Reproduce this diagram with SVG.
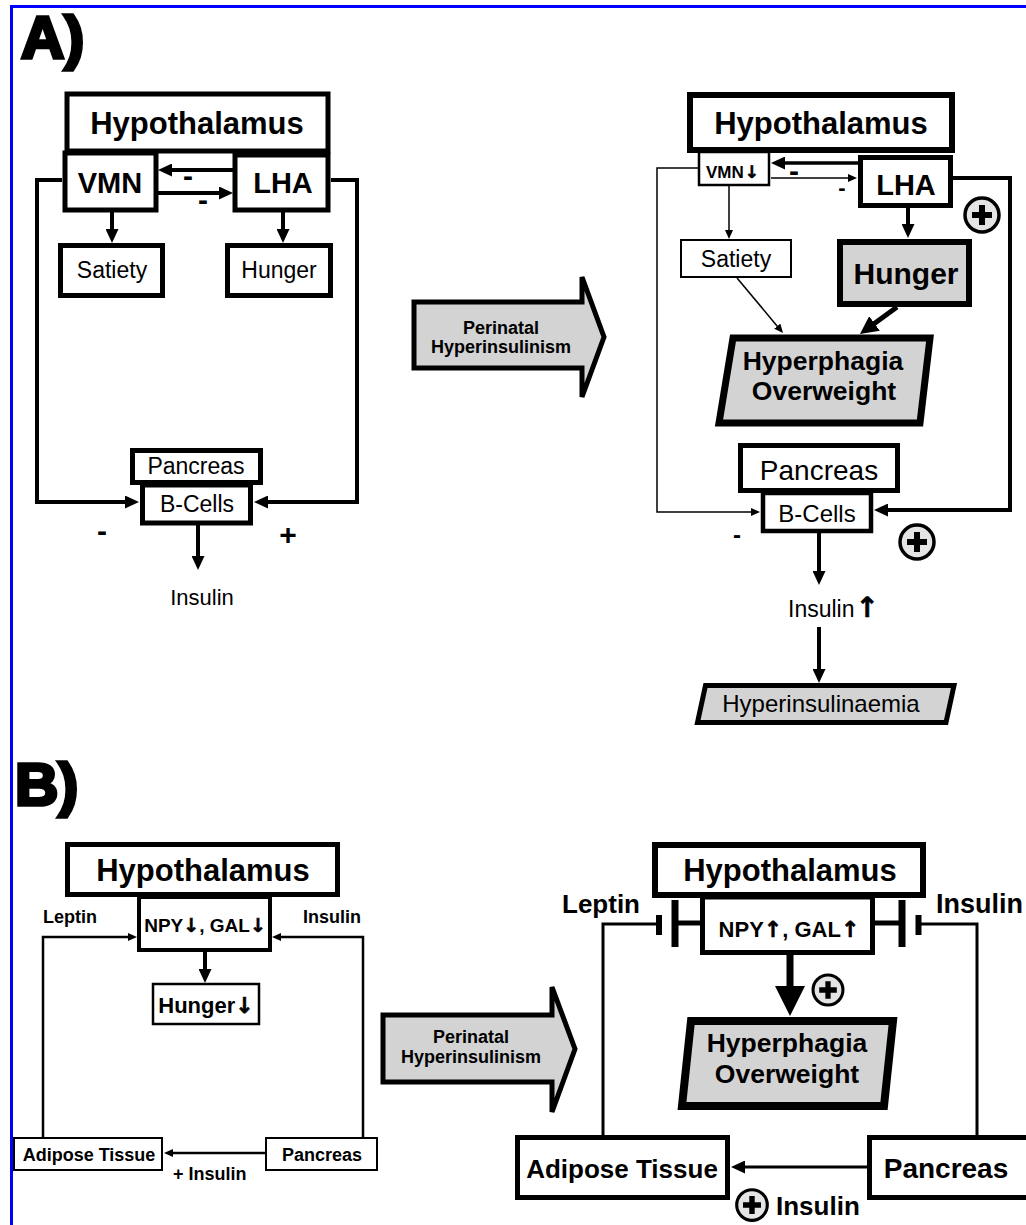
<svg xmlns="http://www.w3.org/2000/svg" xmlns:xlink="http://www.w3.org/1999/xlink" width="1026" height="1225" viewBox="0 0 1026 1225">
<style>
.bx{fill:#fff;stroke:#000}
.gr{fill:#d3d3d3;stroke:#000}
.t{font-family:"Liberation Sans",Arial,"DejaVu Sans",sans-serif;fill:#000}
.b{font-weight:bold}
.c{text-anchor:middle}
.ar{font-family:"DejaVu Sans",sans-serif;font-weight:bold;fill:#000;stroke:#000;stroke-width:0.6}
.ln{fill:none;stroke:#000;stroke-linejoin:miter}
.big{fill:#d3d3d3;stroke:#000;stroke-width:5;stroke-linejoin:miter}
</style>
<defs>
<marker id="m1" markerUnits="userSpaceOnUse" markerWidth="14" markerHeight="13" refX="1" refY="6.5" orient="auto"><path d="M0,0L14,6.5L0,13Z" fill="#000"/></marker>
<marker id="m2" markerUnits="userSpaceOnUse" markerWidth="9" markerHeight="8" refX="1" refY="4" orient="auto"><path d="M0,0L9,4L0,8Z" fill="#000"/></marker>
<marker id="m3" markerUnits="userSpaceOnUse" markerWidth="18" markerHeight="18" refX="1" refY="9" orient="auto"><path d="M0,0L18,9L0,18Z" fill="#000"/></marker>
<marker id="m4" markerUnits="userSpaceOnUse" markerWidth="30" markerHeight="30" refX="1" refY="15" orient="auto"><path d="M0,0L30,15L0,30Z" fill="#000"/></marker>
<g id="pc"><circle r="17" fill="#e4e4e4" stroke="#000" stroke-width="3.5"/><path d="M-10,0H10M0,-10V10" stroke="#000" stroke-width="6"/></g>
</defs>
<rect width="1026" height="1225" fill="#fff"/>
<path d="M11.5,1225V6.5H1026" fill="none" stroke="#0000ff" stroke-width="3"/>

<!-- labels -->
<text class="t b" x="21" y="58" font-size="60" stroke="#000" stroke-width="3.5">A)</text>
<text class="t b" x="15" y="805" font-size="60" stroke="#000" stroke-width="3.5">B)</text>

<!-- connectors -->
<g id="connectors">
  <!-- A left -->
  <path class="ln" stroke-width="4" d="M233,170H171" marker-end="url(#m1)"/>
  <path class="ln" stroke-width="4" d="M158,193H220" marker-end="url(#m1)"/>
  <path class="ln" stroke-width="4" d="M112,212V230" marker-end="url(#m1)"/>
  <path class="ln" stroke-width="4" d="M283,212V230" marker-end="url(#m1)"/>
  <path class="ln" stroke-width="4" d="M62,180H37V502H126" marker-end="url(#m1)"/>
  <path class="ln" stroke-width="4" d="M331,180H357V502H267" marker-end="url(#m1)"/>
  <path class="ln" stroke-width="4" d="M198,525V557" marker-end="url(#m1)"/>
  <!-- A right -->
  <path class="ln" stroke-width="3.5" d="M858,163H784" marker-end="url(#m1)"/>
  <path class="ln" stroke-width="1.5" d="M771,178H849" marker-end="url(#m2)"/>
  <path class="ln" stroke-width="1.5" d="M729,186V231" marker-end="url(#m2)"/>
  <path class="ln" stroke-width="4" d="M908,208V225" marker-end="url(#m1)"/>
  <path class="ln" stroke-width="1.5" d="M698,168H657V512H752" marker-end="url(#m2)"/>
  <path class="ln" stroke-width="4" d="M953,178H1010V510H887" marker-end="url(#m1)"/>
  <path class="ln" stroke-width="1.5" d="M737,278L777.9,326.9" marker-end="url(#m2)"/>
  <path class="ln" stroke-width="5" d="M897,307L873.7,324" marker-end="url(#m3)"/>
  <path class="ln" stroke-width="4" d="M819,533V572" marker-end="url(#m1)"/>
  <path class="ln" stroke-width="4" d="M819,627V670" marker-end="url(#m1)"/>
  <!-- B left -->
  <path class="ln" stroke-width="2.5" d="M43,1137V937H129" marker-end="url(#m2)"/>
  <path class="ln" stroke-width="2.5" d="M363,1137V937H280" marker-end="url(#m2)"/>
  <path class="ln" stroke-width="4" d="M205,952V970" marker-end="url(#m1)"/>
  <path class="ln" stroke-width="2.5" d="M265,1153H172" marker-end="url(#m2)"/>
  <!-- B right -->
  <path class="ln" stroke-width="7" d="M790,955V987" marker-end="url(#m4)"/>
  <path class="ln" stroke-width="3" d="M867,1167H744" marker-end="url(#m1)"/>
  <path class="ln" stroke-width="3" d="M603,1135V924H659"/>
  <path class="ln" stroke-width="6" d="M659,915V935"/>
  <path class="ln" stroke-width="5" d="M700,923H676"/>
  <path class="ln" stroke-width="7" d="M675,900V947"/>
  <path class="ln" stroke-width="5" d="M875,923H902"/>
  <path class="ln" stroke-width="7" d="M902,900V947"/>
  <path class="ln" stroke-width="6" d="M918.5,915V935"/>
  <path class="ln" stroke-width="3" d="M918,924H977V1135"/>
</g>

<!-- middle arrows -->
<g id="arrowA">
  <path class="big" d="M414,302H582V277L604,337L582,397V368H414Z"/>
  <text class="t b c" x="501" y="334" font-size="18">Perinatal</text>
  <text class="t b c" x="501" y="353" font-size="18">Hyperinsulinism</text>
</g>
<g id="arrowB">
  <path class="big" d="M383,1015H552V987L575,1049L552,1112V1082H383Z"/>
  <text class="t b c" x="471" y="1043" font-size="18">Perinatal</text>
  <text class="t b c" x="471" y="1063" font-size="18">Hyperinsulinism</text>
</g>

<!-- Panel A left -->
<g id="aL-hypo"><rect class="bx" x="67" y="94" width="261" height="57" stroke-width="5"/><text class="t b c" x="197" y="134" font-size="31">Hypothalamus</text></g>
<g id="aL-vmn"><rect class="bx" x="65" y="153" width="91" height="57" stroke-width="5"/><text class="t b c" x="110" y="193" font-size="29">VMN</text></g>
<g id="aL-lha"><rect class="bx" x="235" y="155" width="93" height="55" stroke-width="5"/><text class="t b c" x="283" y="193" font-size="29">LHA</text></g>
<g id="aL-signs">
  <text class="t b c" x="188" y="186" font-size="30">-</text>
  <text class="t b c" x="203" y="210" font-size="30">-</text>
  <text class="t b c" x="102" y="541" font-size="30">-</text>
  <text class="t b c" x="288" y="545" font-size="30">+</text>
</g>
<g id="aL-satiety"><rect class="bx" x="60.5" y="245.5" width="102" height="50" stroke-width="5"/><text class="t c" x="112" y="278" font-size="23">Satiety</text></g>
<g id="aL-hunger"><rect class="bx" x="227.5" y="245.5" width="103" height="50" stroke-width="5"/><text class="t c" x="279" y="278" font-size="23">Hunger</text></g>
<g id="aL-pancreas"><rect class="bx" x="132.5" y="450.5" width="128" height="32" stroke-width="5"/><text class="t c" x="196" y="474" font-size="23">Pancreas</text></g>
<g id="aL-bcells"><rect class="bx" x="142.5" y="485" width="108" height="38" stroke-width="5"/><text class="t c" x="197" y="512" font-size="23">B-Cells</text></g>
<g id="aL-insulin"><text class="t c" x="202" y="605" font-size="22">Insulin</text></g>

<!-- Panel A right -->
<g id="aR-hypo"><rect class="bx" x="690" y="95" width="262" height="55" stroke-width="6"/><text class="t b c" x="821" y="134" font-size="31">Hypothalamus</text></g>
<g id="aR-vmn"><rect class="bx" x="699" y="152" width="70" height="33" stroke-width="2.5"/><text class="t b" x="706" y="178" font-size="17">VMN<tspan class="ar" dx="1" font-size="17">↓</tspan></text></g>
<g id="aR-lha"><rect class="bx" x="860.5" y="157.5" width="90" height="48" stroke-width="5"/><text class="t b c" x="906" y="195" font-size="29">LHA</text></g>
<g id="aR-signs">
  <text class="t b c" x="794" y="181" font-size="30">-</text>
  <text class="t b c" x="842" y="195" font-size="22">-</text>
  <text class="t b c" x="737" y="543" font-size="24">-</text>
  <use xlink:href="#pc" transform="translate(982,215)"/>
  <use xlink:href="#pc" transform="translate(917,542)"/>
</g>
<g id="aR-satiety"><rect class="bx" x="681" y="240" width="110" height="37" stroke-width="2"/><text class="t c" x="736" y="267" font-size="23">Satiety</text></g>
<g id="aR-hunger"><rect class="gr" x="840" y="242" width="129" height="62" stroke-width="6"/><text class="t b c" x="906" y="284" font-size="30">Hunger</text></g>
<g id="aR-hyper"><path class="gr" d="M733,338H930L920,423H719Z" stroke-width="7"/><text class="t b c" x="823" y="370" font-size="26.5">Hyperphagia</text><text class="t b c" x="824" y="400" font-size="26.5">Overweight</text></g>
<g id="aR-pancreas"><rect class="bx" x="740.5" y="445.5" width="157" height="45" stroke-width="5"/><text class="t c" x="819" y="480" font-size="28">Pancreas</text></g>
<g id="aR-bcells"><rect class="bx" x="763" y="493" width="108" height="38" stroke-width="4.5"/><text class="t c" x="817" y="522" font-size="24">B-Cells</text></g>
<g id="aR-insulin"><text class="t" x="788" y="617" font-size="23">Insulin<tspan class="ar" dx="1" font-size="28">↑</tspan></text></g>
<g id="aR-hyperins"><path class="gr" d="M705.5,685.5H954L946,722.5H697.5Z" stroke-width="5"/><text class="t c" x="821" y="712" font-size="24">Hyperinsulinaemia</text></g>

<!-- Panel B left -->
<g id="bL-hypo"><rect class="bx" x="67.5" y="844.5" width="270" height="50" stroke-width="5"/><text class="t b c" x="203" y="881" font-size="31">Hypothalamus</text></g>
<g id="bL-npy"><rect class="bx" x="139" y="897" width="131" height="53" stroke-width="4"/><text class="t b c" x="205" y="932" font-size="19">NPY<tspan class="ar">↓</tspan>, GAL<tspan class="ar">↓</tspan></text></g>
<g id="bL-labels">
  <text class="t b" x="43" y="923" font-size="18">Leptin</text>
  <text class="t b" x="303" y="923" font-size="18">Insulin</text>
  <text class="t b" x="173" y="1180" font-size="18">+ Insulin</text>
</g>
<g id="bL-hunger"><rect class="bx" x="153" y="984" width="106" height="40" stroke-width="2.5"/><text class="t b c" x="206" y="1013" font-size="22">Hunger<tspan class="ar">↓</tspan></text></g>
<g id="bL-adipose"><rect class="bx" x="14" y="1138" width="148" height="32" stroke-width="2"/><text class="t b c" x="89" y="1161" font-size="18">Adipose Tissue</text></g>
<g id="bL-pancreas"><rect class="bx" x="266" y="1138" width="111" height="32" stroke-width="2"/><text class="t b c" x="322" y="1161" font-size="18">Pancreas</text></g>

<!-- Panel B right -->
<g id="bR-hypo"><rect class="bx" x="655" y="845" width="268" height="50" stroke-width="6"/><text class="t b c" x="790" y="881" font-size="31">Hypothalamus</text></g>
<g id="bR-npy"><rect class="bx" x="702.5" y="897" width="170" height="55.5" stroke-width="5"/><text class="t b c" x="789" y="937" font-size="22">NPY<tspan class="ar">↑</tspan>, GAL<tspan class="ar">↑</tspan></text></g>
<g id="bR-labels">
  <text class="t b" x="562" y="913" font-size="26">Leptin</text>
  <text class="t b" x="936" y="913" font-size="27">Insulin</text>
  <use xlink:href="#pc" transform="translate(828,990) scale(0.88)"/>
  <use xlink:href="#pc" transform="translate(752,1205) scale(0.9)"/>
  <text class="t b" x="776" y="1215" font-size="26">Insulin</text>
</g>
<g id="bR-hyper"><path class="gr" d="M691,1021H893L884,1106H682Z" stroke-width="8"/><text class="t b c" x="787" y="1052" font-size="26.5">Hyperphagia</text><text class="t b c" x="787" y="1083" font-size="26.5">Overweight</text></g>
<g id="bR-adipose"><rect class="bx" x="517.5" y="1137.5" width="210" height="60" stroke-width="5"/><text class="t b c" x="622" y="1178" font-size="26">Adipose Tissue</text></g>
<g id="bR-pancreas"><rect class="bx" x="869.5" y="1137.5" width="170" height="60" stroke-width="5"/><text class="t b c" x="946" y="1178" font-size="28">Pancreas</text></g>
</svg>
